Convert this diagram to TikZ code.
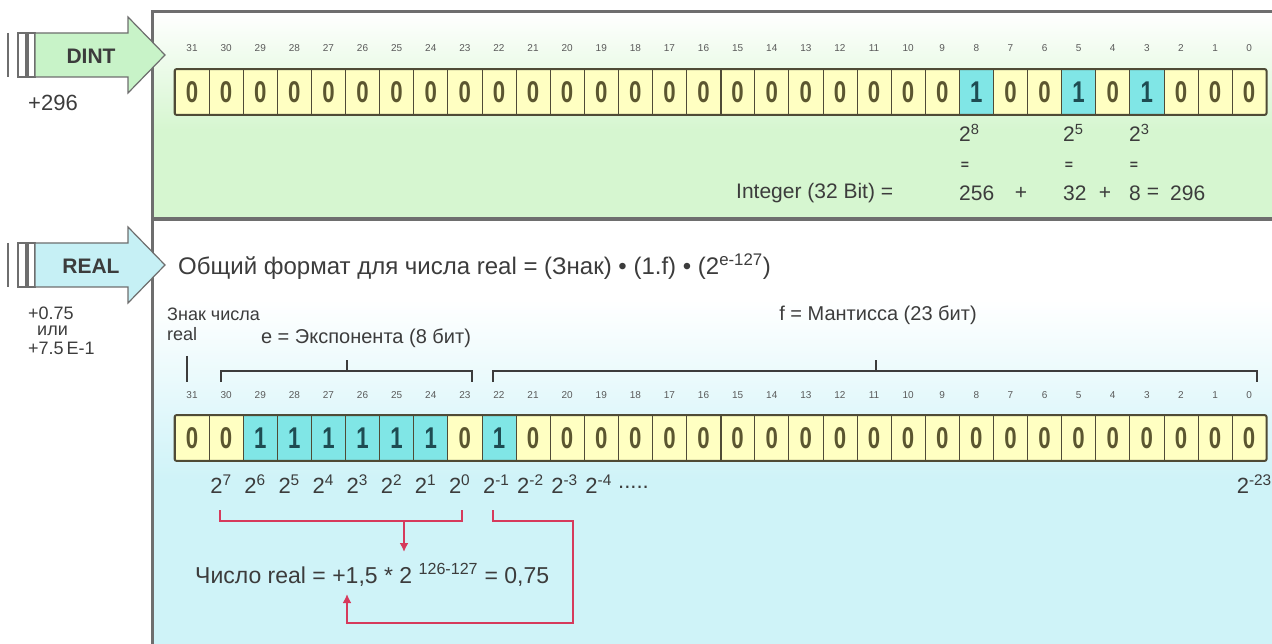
\documentclass[tikz,border=0pt]{standalone}
\usepackage{fontspec}
\setmainfont{Liberation Sans}
\usepackage{graphicx}
\usetikzlibrary{arrows.meta}
\definecolor{cellyellow}{HTML}{FFFFC2}
\definecolor{cellcyan}{HTML}{80E6E6}
\definecolor{cellline}{HTML}{4F4B36}
\definecolor{digitdark}{HTML}{5B5630}
\definecolor{digitcyan}{HTML}{1E4C52}
\definecolor{textgray}{HTML}{3C3C3C}
\definecolor{numgray}{HTML}{5A5A5A}
\definecolor{framegray}{HTML}{6E6E6E}
\definecolor{dintgreen}{HTML}{D6F6D0}
\definecolor{arrowgreen}{HTML}{C8F3C8}
\definecolor{realcyan}{HTML}{CFF3F8}
\definecolor{arrowcyan}{HTML}{C6F0F5}
\definecolor{linkred}{HTML}{D63A5C}
\newcommand{\redarrow}{-{Latex[length=9pt,width=9pt]}}
\newcommand{\slimtext}[1]{\scalebox{0.74}[1]{#1}}
\newcommand{\fs}[1]{\fontsize{#1}{#1}\selectfont}

\begin{document}
\begin{tikzpicture}[x=1pt,y=-1pt,
    bitcell/.style={draw=cellline,line width=0.8pt,minimum width=34.1pt,minimum height=45pt,inner sep=0pt,font=\fs{30}\bfseries},
    bitnum/.style={text=numgray,font=\fs{10},inner sep=0pt},
    lbl/.style={text=textgray,inner sep=0pt},
    redline/.style={linkred,line width=1.8pt},
    bracketline/.style={textgray,line width=1.4pt},
    arrowline/.style={draw=framegray,line width=1.2pt}]
\useasboundingbox (0,0) rectangle (1272,644);
% panels
\fill[white] (152,12) rectangle (1272,644);
\shade[top color=white,bottom color=dintgreen] (152,12) rectangle (1272,130);
\fill[dintgreen] (152,130) rectangle (1272,219);
\shade[top color=white,bottom color=realcyan] (152,300) rectangle (1272,480);
\fill[realcyan] (152,480) rectangle (1272,644);
\draw[framegray,line width=3pt] (152,644) -- (152,12) -- (1272,12);
\draw[framegray,line width=3.5pt] (152,219) -- (1272,219);

% type arrows
\foreach \yy/\fc/\lab/\nm in {0/arrowgreen/DINT/dint,210/arrowcyan/REAL/real}{
  \draw[framegray,line width=2pt] (8,33+\yy) -- (8,77+\yy);
  \draw[arrowline,fill=white] (18,33+\yy) rectangle (26,77+\yy);
  \draw[arrowline,fill=white] (28,33+\yy) rectangle (35,77+\yy);
  \draw[arrowline,fill=\fc] (35,33+\yy) -- (128,33+\yy) -- (128,17+\yy) -- (165,55+\yy)
    -- (128,93+\yy) -- (128,77+\yy) -- (35,77+\yy) -- cycle;
  \node[lbl,font=\fs{21}\bfseries] (\nm) at (91,56+\yy) {\lab};
}
\node[lbl,font=\fs{22}] (dval) at (53,103) {+296};
\node[lbl,font=\fs{18},anchor=west] (rval1) at (28,313) {+0.75};
\node[lbl,font=\fs{18},anchor=west] (rval2) at (37,331) {или};
\node[lbl,font=\fs{18},anchor=west] (rval3) at (28,348) {+7.5\,E-1};

% DINT bits
\foreach \v [count=\i from 0] in {0,0,0,0,0,0,0,0,0,0,0,0,0,0,0,0,0,0,0,0,0,0,0,1,0,0,1,0,1,0,0,0}{
  \pgfmathtruncatemacro\bitno{31-\i}
  \ifnum\v=1 \def\fc{cellcyan}\def\tc{digitcyan}\else\def\fc{cellyellow}\def\tc{digitdark}\fi
  \node[bitcell,fill=\fc,text=\tc] (d\i) at ({175+34.1*(\i+0.5)},92) {\slimtext{\v}};
  \node[bitnum] (dn\i) at ({175+34.1*(\i+0.5)},48) {\bitno};
}
\draw[cellline,line width=2pt,rounded corners=2pt] (d0.north west) rectangle (d31.south east);
\draw[cellline,line width=1.6pt] (d15.north east) -- (d15.south east);

\node[lbl,font=\fs{21},anchor=west] (p8) at (959,133) {2\textsuperscript{8}};
\node[lbl,font=\fs{21},anchor=west] (p5) at (1063,133) {2\textsuperscript{5}};
\node[lbl,font=\fs{21},anchor=west] (p3) at (1129,133) {2\textsuperscript{3}};
\node[lbl,font=\fs{14}\bfseries] (e8) at (965,166) {=};
\node[lbl,font=\fs{14}\bfseries] (e5) at (1069,166) {=};
\node[lbl,font=\fs{14}\bfseries] (e3) at (1134,166) {=};
\node[lbl,font=\fs{21},anchor=west] (intlbl) at (736,193) {Integer (32 Bit) =};
\node[lbl,font=\fs{21},anchor=west] (v256) at (959,193) {256};
\node[lbl,font=\fs{21}] (plus1) at (1021,193) {+};
\node[lbl,font=\fs{21},anchor=west] (v32) at (1063,193) {32};
\node[lbl,font=\fs{21}] (plus2) at (1105,193) {+};
\node[lbl,font=\fs{21},anchor=west] (v8) at (1129,193) {8};
\node[lbl,font=\fs{21}] (eqs) at (1153,193) {=};
\node[lbl,font=\fs{21},anchor=west] (v296) at (1170,193) {296};

% REAL format
\node[lbl,font=\fs{24},anchor=west] (gen) at (178,267) {Общий формат для числа real = (Знак) • (1.f) • (2\textsuperscript{e-127})};
\node[lbl,font=\fontsize{18}{20}\selectfont,anchor=west,align=left] (sign) at (167,324) {Знак числа\\real};
\node[lbl,font=\fs{20}] (expo) at (366,338) {e = Экспонента (8 бит)};
\node[lbl,font=\fs{20}] (mant) at (878,315) {f = Мантисса (23 бит)};
\draw[bracketline] (187,356) -- (187,382);
\draw[bracketline] (221,382) -- (221,371) -- (472,371) -- (472,382);
\draw[bracketline] (347,371) -- (347,360);
\draw[bracketline] (493,382) -- (493,371) -- (1257,371) -- (1257,382);
\draw[bracketline] (876,371) -- (876,360);

% REAL bits
\foreach \v [count=\i from 0] in {0,0,1,1,1,1,1,1,0,1,0,0,0,0,0,0,0,0,0,0,0,0,0,0,0,0,0,0,0,0,0,0}{
  \pgfmathtruncatemacro\bitno{31-\i}
  \ifnum\v=1 \def\fc{cellcyan}\def\tc{digitcyan}\else\def\fc{cellyellow}\def\tc{digitdark}\fi
  \node[bitcell,fill=\fc,text=\tc] (r\i) at ({175+34.1*(\i+0.5)},438) {\slimtext{\v}};
  \node[bitnum] (rn\i) at ({175+34.1*(\i+0.5)},395) {\bitno};
}
\draw[cellline,line width=2pt,rounded corners=2pt] (r0.north west) rectangle (r31.south east);
\draw[cellline,line width=1.6pt] (r15.north east) -- (r15.south east);

\foreach \p [count=\k] in {7,6,5,4,3,2,1,0,-1,-2,-3,-4}
  \node[lbl,font=\fs{22},anchor=west] (pw\k) at ({176+34.1*\k},484) {2\textsuperscript{\p}};
\node[lbl,font=\fs{22},anchor=west] (dots) at (618,487) {.....};
\node[lbl,font=\fs{22},anchor=east] (pwlast) at (1272,484) {2\textsuperscript{-23}};

% result
\node[lbl,font=\fs{23},anchor=west] (numreal) at (195,575) {Число real = +1,5 * 2 \textsuperscript{126-127} = 0,75};
\coordinate (eL) at (220,510);
\coordinate (eR) at (462,510);
\coordinate (mL) at (493,510);
\coordinate (eM) at (404,521);
\coordinate (tipA) at (404,552);
\coordinate (mC) at (573,623);
\coordinate (tipB) at (347,594);
\draw[redline] (eL) -- ++(0,11) -| (eR);
\draw[redline,\redarrow] (eM) -- (tipA);
\draw[redline,\redarrow] (mL) -- ++(0,11) -| (mC) -| (tipB);
\end{tikzpicture}
\end{document}
